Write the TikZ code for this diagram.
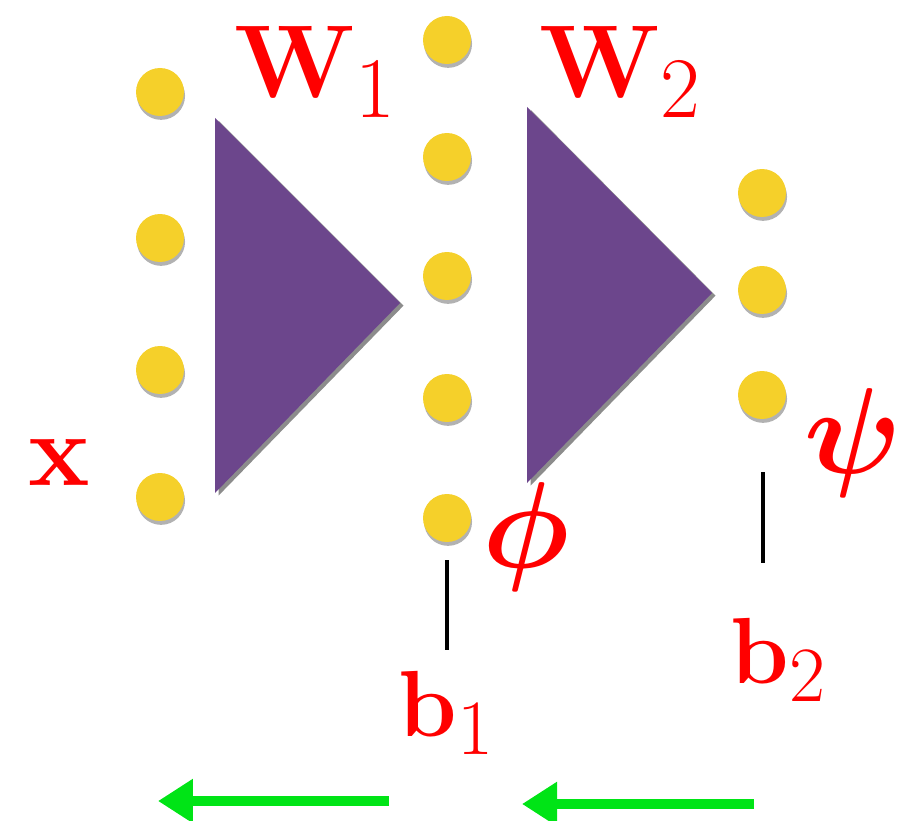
\documentclass[tikz,border=0pt]{standalone}
\usepackage{bm}
\usetikzlibrary{arrows.meta, shadows}
\definecolor{dotyellow}{RGB}{245, 208, 42}
\definecolor{weightpurple}{RGB}{108, 70, 140}
\definecolor{labelred}{RGB}{255, 0, 0}
\definecolor{flowgreen}{RGB}{0, 228, 22}

\begin{document}
\begin{tikzpicture}[
  x=0.02cm, y=-0.02cm,
  dot/.style={circle, fill=dotyellow, minimum size=0.96cm, inner sep=0pt, drop shadow={shadow xshift=0.6pt, shadow yshift=-2.2pt, opacity=0.3, fill=black}},
  weight/.style={fill=weightpurple, drop shadow={shadow xshift=2pt, shadow yshift=-1.5pt, opacity=0.45, fill=black}},
  redtext/.style={text=labelred, font=\Huge, inner sep=0pt, anchor=base west},
  lbl/.style={redtext, scale=2.37},
  biaslbl/.style={redtext, scale=2.15},
  actlbl/.style={redtext, scale=2.8},
  bias/.style={line width=2.8pt, line cap=butt},
  flow/.style={-{Triangle[length=0.7cm, width=0.84cm]}, line width=5.3pt, draw=flowgreen},
]
  \useasboundingbox (0,0) rectangle (911,820);

  % weight layers
  \fill[weight] (215,118) -- (215,493) -- (400,303) -- cycle;
  \fill[weight] (527,107) -- (527,483) -- (712,293) -- cycle;

  % units
  \foreach \y [count=\i] in {92, 238, 370, 497}
    \node[dot] (in\i) at (160,\y) {};
  \foreach \y [count=\i] in {40, 157, 276, 398, 518}
    \node[dot] (hid\i) at (447,\y) {};
  \foreach \y [count=\i] in {193, 290, 395}
    \node[dot] (out\i) at (762,\y) {};

  % labels
  \node[lbl] (W1) at (234,98) {$\mathbf{W}_1$};
  \node[lbl] (W2) at (539,98) {$\mathbf{W}_2$};
  \node[lbl] (xin) at (28,485) {$\mathbf{x}$};
  \node[actlbl] (phi) at (482,567) {$\bm{\phi}$};
  \node[actlbl] (psi) at (803,473) {$\bm{\psi}$};
  \node[biaslbl] (b1) at (398,736) {$\mathbf{b}_1$};
  \node[biaslbl] (b2) at (730,683) {$\mathbf{b}_2$};

  % bias ticks
  \coordinate (b1top) at (447,560);
  \coordinate (b1bot) at (447,650);
  \coordinate (b2top) at (763,472);
  \coordinate (b2bot) at (763,563);
  \draw[bias] (b1top) -- (b1bot);
  \draw[bias] (b2top) -- (b2bot);

  % backward flow
  \coordinate (f1from) at (389,801);
  \coordinate (f1to) at (158,801);
  \coordinate (f2from) at (754,804);
  \coordinate (f2to) at (522,804);
  \draw[flow] (f1from) -- (f1to);
  \draw[flow] (f2from) -- (f2to);
\end{tikzpicture}
\end{document}
